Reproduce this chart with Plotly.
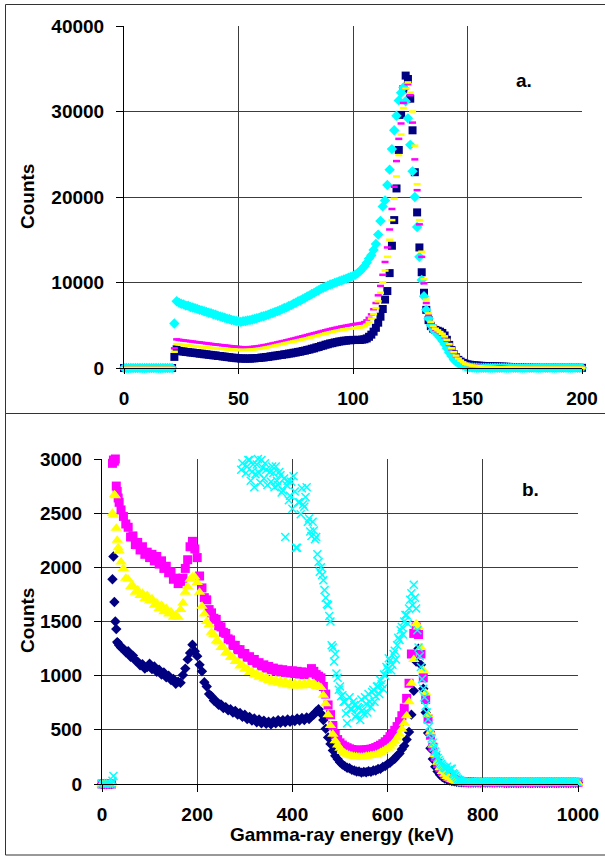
import plotly.graph_objects as go

# ---------------- panel a: low-energy region, 1 keV channels ----------------
energy_a = list(range(203))

navy_a = [
    0, 0, 0, 0, 0, 0, 0, 0, 0, 0,
    0, 0, 0, 0, 0, 0, 0, 0, 0, 0,
    0, 0, 1300, 2200, 2010, 1950, 1930, 1880, 1860, 1810,
    1800, 1750, 1730, 1680, 1670, 1610, 1600, 1550, 1530, 1480,
    1470, 1410, 1400, 1350, 1330, 1280, 1260, 1210, 1200, 1150,
    1140, 1110, 1120, 1090, 1110, 1100, 1130, 1130, 1170, 1170,
    1220, 1230, 1280, 1300, 1360, 1380, 1440, 1460, 1520, 1540,
    1600, 1620, 1690, 1710, 1780, 1810, 1880, 1910, 1990, 2030,
    2110, 2160, 2250, 2300, 2400, 2460, 2560, 2620, 2720, 2780,
    2870, 2910, 2990, 3030, 3100, 3130, 3190, 3200, 3250, 3250,
    3290, 3270, 3300, 3280, 3320, 3360, 3460, 3650, 3900, 4250,
    4700, 5300, 6000, 6900, 8000, 9000, 11100, 14300, 17300, 21000,
    25500, 29600, 32600, 34200, 33800, 31500, 27800, 22900, 18200, 14100,
    11200, 8800, 6800, 5600, 4900, 4600, 4450, 4350, 4250, 4100,
    3800, 3300, 2700, 2100, 1600, 1250, 950, 750, 600, 500,
    430, 380, 340, 310, 290, 270, 250, 240, 230, 220,
    210, 200, 190, 180, 170, 160, 150, 140, 130, 120,
    110, 100, 90, 80, 70, 60, 50, 40, 40, 30,
    30, 20, 20, 20, 20, 20, 20, 20, 20, 20,
    20, 20, 20, 20, 20, 20, 20, 20, 20, 20,
    20, 20, 20,
]

cyan_a = [
    0, 0, 0, 0, 0, 0, 0, 0, 0, 0,
    0, 0, 0, 0, 0, 0, 0, 0, 0, 0,
    0, 0, 5200, 7800, 7650, 7520, 7440, 7300, 7280, 7140,
    7070, 7000, 6910, 6800, 6740, 6640, 6570, 6460, 6420, 6290,
    6220, 6110, 6040, 5950, 5870, 5770, 5730, 5610, 5570, 5490,
    5450, 5400, 5460, 5490, 5570, 5600, 5670, 5740, 5810, 5890,
    6010, 6050, 6160, 6240, 6360, 6440, 6550, 6650, 6760, 6890,
    7010, 7090, 7250, 7350, 7510, 7630, 7810, 7890, 8060, 8190,
    8360, 8490, 8660, 8790, 8960, 9090, 9260, 9380, 9510, 9640,
    9760, 9840, 9960, 10040, 10160, 10240, 10350, 10440, 10560, 10640,
    10750, 10900, 11100, 11300, 11600, 11900, 12300, 12800, 13200, 13800,
    14500, 15600, 17200, 18900, 19600, 21400, 23200, 25600, 27800, 29500,
    31300, 32200, 32800, 31200, 29200, 26100, 23000, 20000, 16500, 13000,
    10300, 8400, 6800, 5800, 5000, 4500, 4200, 3900, 3600, 3200,
    2800, 2300, 1800, 1400, 1000, 750, 550, 400, 280, 200,
    130, 90, 60, 40, 30, 20, 20, 20, 20, 20,
    20, 20, 20, 20, 20, 20, 20, 20, 20, 20,
    20, 20, 20, 20, 20, 20, 20, 20, 20, 20,
    20, 20, 20, 20, 20, 20, 20, 20, 20, 20,
    20, 20, 20, 20, 20, 20, 20, 20, 20, 20,
    20, 20, 20,
]

magenta_a = [
    0, 0, 0, 0, 0, 0, 0, 0, 0, 0,
    0, 0, 0, 0, 0, 0, 0, 0, 0, 0,
    0, 0, 2300, 3350, 3300, 3260, 3220, 3190, 3160, 3120,
    3090, 3050, 3020, 2990, 2950, 2920, 2880, 2850, 2820, 2780,
    2750, 2720, 2690, 2660, 2630, 2600, 2570, 2540, 2510, 2490,
    2460, 2440, 2430, 2420, 2430, 2440, 2460, 2490, 2520, 2560,
    2600, 2650, 2700, 2750, 2810, 2870, 2930, 2990, 3050, 3110,
    3170, 3240, 3300, 3370, 3430, 3500, 3570, 3640, 3710, 3780,
    3850, 3920, 3990, 4060, 4130, 4200, 4270, 4340, 4410, 4480,
    4550, 4610, 4670, 4730, 4790, 4850, 4900, 4950, 5000, 5050,
    5100, 5140, 5180, 5220, 5270, 5370, 5570, 5870, 6270, 6870,
    7600, 8500, 9600, 10900, 12400, 14100, 16200, 18600, 21200, 24200,
    26800, 28600, 31000, 32700, 33200, 31900, 28700, 24400, 20800, 16800,
    13000, 9900, 7600, 6200, 5300, 4800, 4500, 4300, 4100, 3900,
    3600, 3200, 2700, 2200, 1800, 1400, 1100, 850, 650, 500,
    400, 340, 300, 270, 250, 230, 210, 200, 190, 180,
    170, 160, 150, 140, 130, 120, 110, 100, 90, 80,
    70, 60, 50, 40, 40, 30, 30, 30, 20, 20,
    20, 20, 20, 20, 20, 20, 20, 20, 20, 20,
    20, 20, 20, 20, 20, 20, 20, 20, 20, 20,
    20, 20, 20,
]

yellow_a = [
    0, 0, 0, 0, 0, 0, 0, 0, 0, 0,
    0, 0, 0, 0, 0, 0, 0, 0, 0, 0,
    0, 0, 1900, 2800, 2760, 2720, 2690, 2660, 2630, 2600,
    2570, 2540, 2510, 2480, 2450, 2420, 2400, 2370, 2340, 2320,
    2300, 2270, 2250, 2230, 2210, 2190, 2170, 2150, 2140, 2120,
    2110, 2100, 2100, 2110, 2120, 2140, 2160, 2190, 2220, 2260,
    2300, 2350, 2400, 2450, 2510, 2570, 2630, 2690, 2750, 2810,
    2870, 2930, 2990, 3050, 3110, 3170, 3230, 3290, 3350, 3410,
    3480, 3550, 3620, 3690, 3760, 3830, 3900, 3970, 4040, 4110,
    4180, 4240, 4300, 4350, 4400, 4450, 4500, 4540, 4580, 4620,
    4650, 4680, 4710, 4740, 4780, 4880, 5080, 5380, 5780, 6300,
    7000, 7800, 8800, 10000, 11400, 13000, 15000, 17300, 19800, 22400,
    24900, 27300, 30400, 32700, 33400, 32200, 30000, 26000, 21500, 17300,
    13600, 10400, 8000, 6400, 5400, 4900, 4600, 4400, 4200, 4000,
    3700, 3300, 2800, 2300, 1850, 1450, 1100, 850, 650, 500,
    400, 330, 280, 250, 220, 200, 180, 160, 150, 140,
    130, 120, 110, 100, 90, 80, 70, 60, 50, 40,
    40, 30, 30, 30, 20, 20, 20, 20, 20, 20,
    20, 20, 20, 20, 20, 20, 20, 20, 20, 20,
    20, 20, 20, 20, 20, 20, 20, 20, 20, 20,
    20, 20, 20,
]

# ---------------- panel b: full spectrum ----------------
# finer spacing at the low-energy edge, then 5 keV channels up to 1010 keV
energy_b = [0, 5, 10, 15, 20, 22, 24, 26, 28, 30, 32, 34, 36, 40] + list(range(45, 1015, 5))

navy_b = [
    0, 0, 0, 0, 0, 1890, 2100, 1680, 1500, 1430, 1310, 1300, 1280, 1260,
    1250, 1215, 1225, 1175, 1185, 1140, 1130, 1095, 1105, 1065,   # 45-90
    1080, 1110, 1060, 1085, 1035, 1055, 1010, 1030, 985, 1000,    # 95-140
    960, 970, 925, 945, 935, 1005, 1065, 1150, 1210, 1285,        # 145-190
    1225, 1180, 1100, 1040, 940, 900, 830, 810, 770, 765,         # 195-240
    730, 735, 700, 710, 680, 690, 660, 675, 640, 655,             # 245-290
    620, 640, 600, 620, 585, 605, 570, 595, 560, 585,             # 295-340
    555, 575, 550, 580, 560, 590, 565, 590, 570, 595,             # 345-390
    575, 595, 580, 605, 585, 610, 590, 615, 600, 625,             # 395-440
    640, 670, 690, 650, 590, 510, 430, 370, 310, 260,             # 445-490
    230, 200, 180, 165, 150, 145, 130, 125, 115, 115,             # 495-540
    105, 112, 108, 118, 112, 125, 124, 138, 140, 158,             # 545-590
    165, 185, 195, 218, 232, 262, 282, 320, 352, 410,             # 595-640
    480, 640, 860, 1130, 1250, 1100, 880, 660, 470, 330,          # 645-690
    230, 160, 115, 85, 65, 50, 40, 33, 28, 24,                    # 695-740
    20, 18, 16, 15, 15, 14, 14, 14, 13, 13,                       # 745-790
    13, 13, 13, 13, 13, 13, 13, 13, 13, 13,                       # 795-840
    12, 12, 12, 12, 12, 12, 12, 12, 12, 12,                       # 845-890
    12, 12, 12, 12, 12, 12, 12, 12, 12, 12,                       # 895-940
    12, 12, 12, 12, 12, 12, 12, 12, 12, 12,                       # 945-990
    12, 12, 12, 12,                                               # 995-1010
]

magenta_b = [
    0, 0, 0, 0, 0, 2960, 2990, 2980, 3000, 2750, 2700, 2640, 2600, 2530,
    2470, 2400, 2370, 2280, 2290, 2210, 2230, 2160, 2190, 2120,   # 45-90
    2140, 2090, 2120, 2060, 2100, 2030, 2060, 1990, 2010, 1950,   # 95-140
    1960, 1890, 1900, 1850, 1870, 1900, 1990, 2070, 2190, 2240,   # 145-190
    2170, 2090, 1920, 1810, 1720, 1700, 1610, 1580, 1530, 1520,   # 195-240
    1460, 1450, 1400, 1390, 1340, 1330, 1280, 1280, 1240, 1240,   # 245-290
    1200, 1205, 1170, 1175, 1140, 1150, 1115, 1120, 1090, 1100,   # 295-340
    1070, 1085, 1055, 1070, 1045, 1060, 1035, 1055, 1030, 1045,   # 345-390
    1025, 1045, 1020, 1040, 1015, 1035, 1010, 1030, 1025, 1065,   # 395-440
    1040, 1010, 995, 980, 900, 830, 730, 640, 540, 460,           # 445-490
    410, 380, 360, 345, 335, 325, 318, 314, 312, 310,             # 495-540
    312, 314, 316, 318, 322, 328, 336, 346, 358, 372,             # 545-590
    390, 412, 437, 465, 495, 530, 575, 630, 700, 790,             # 595-640
    930, 1200, 1390, 1450, 1380, 1200, 980, 780, 600, 450,        # 645-690
    340, 250, 190, 150, 115, 90, 70, 58, 48, 40,                  # 695-740
    34, 28, 24, 20, 18, 17, 16, 16, 15, 15,                       # 745-790
    15, 15, 15, 15, 15, 15, 15, 15, 15, 15,                       # 795-840
    15, 15, 15, 15, 15, 15, 15, 15, 15, 15,                       # 845-890
    15, 15, 15, 15, 15, 15, 15, 15, 15, 15,                       # 895-940
    15, 15, 15, 15, 15, 15, 15, 15, 15, 15,                       # 945-990
    15, 15, 15, 15,                                               # 995-1010
]

yellow_b = [
    0, 0, 0, 0, 0, 2500, 2480, 2670, 2660, 2360, 2250, 2180, 2150, 2050,
    1990, 1900, 1890, 1820, 1830, 1770, 1790, 1740, 1760, 1710,   # 45-90
    1740, 1690, 1710, 1650, 1670, 1620, 1650, 1590, 1620, 1570,   # 95-140
    1590, 1540, 1560, 1540, 1610, 1670, 1770, 1820, 1890, 1910,   # 145-190
    1910, 1860, 1770, 1640, 1570, 1500, 1470, 1400, 1380, 1320,   # 195-240
    1310, 1260, 1260, 1210, 1210, 1170, 1170, 1130, 1130, 1090,   # 245-290
    1095, 1060, 1065, 1030, 1040, 1005, 1020, 985, 1000, 970,     # 295-340
    985, 955, 970, 940, 960, 930, 950, 920, 945, 915,             # 345-390
    935, 905, 930, 905, 925, 905, 930, 910, 935, 915,             # 395-440
    930, 900, 905, 890, 820, 740, 640, 540, 460, 400,             # 445-490
    360, 330, 300, 285, 275, 265, 258, 254, 252, 250,             # 495-540
    250, 252, 255, 258, 262, 266, 272, 280, 290, 302,             # 545-590
    315, 330, 348, 370, 395, 425, 460, 505, 560, 630,             # 595-640
    760, 930, 1150, 1480, 1450, 1260, 1050, 840, 640, 480,        # 645-690
    360, 270, 200, 150, 115, 90, 70, 55, 42, 32,                  # 695-740
    25, 20, 16, 14, 13, 12, 12, 12, 12, 12,                       # 745-790
    12, 12, 12, 12, 12, 12, 12, 12, 12, 12,                       # 795-840
    12, 12, 12, 12, 12, 12, 12, 12, 12, 12,                       # 845-890
    12, 12, 12, 12, 12, 12, 12, 12, 12, 12,                       # 895-940
    12, 12, 12, 12, 12, 12, 12, 12, 12, 12,                       # 945-990
    12, 12, 12, 12,                                               # 995-1010
]

# cyan runs above the 3000-count axis between ~25 and ~290 keV; 2.5 keV channels
# through the region of interest, 5 keV beyond
energy_b_cyan = ([0, 5, 10, 15, 20, 22, 24]
                 + [290 + 2.5 * i for i in range(189)]
                 + list(range(765, 1015, 5)))

cyan_b = [
    0, 0, 0, 0, 0, 30, 74,
    3040, 2900, 2960, 3020, 3010, 2870, 2930, 2990, 2990, 2800,   # 290-312.5
    2880, 2950, 2740, 2860, 2950, 3000, 2870, 2780, 2990, 2920,   # 315-337.5
    2820, 2960, 2900, 2760, 3020, 2880, 2790, 2930, 2870, 2740,   # 340-362.5
    2930, 2800, 2760, 2880, 2850, 2690, 2710, 2820, 2280, 2760,   # 365-387.5
    2800, 2620, 2660, 2790, 2540, 2840, 2700, 2180, 2180, 2600,   # 390-412.5
    2600, 2490, 2730, 2580, 2560, 2650, 2740, 2420, 2450, 2330,   # 415-437.5
    2290, 2420, 2340, 2260, 2280, 2120, 2050, 1960, 2000, 1930,   # 440-462.5
    1880, 1790, 1720, 1660, 1650, 1550, 1500, 1280, 1260, 1130,   # 465-487.5
    1200, 1020, 980, 870, 900, 810, 820, 760, 760, 650,           # 490-512.5
    560, 720, 800, 690, 690, 760, 730, 620, 640, 710,             # 515-537.5
    700, 590, 780, 680, 650, 800, 740, 660, 830, 760,             # 540-562.5
    710, 850, 870, 760, 810, 900, 900, 830, 960, 920,             # 565-587.5
    880, 1010, 1000, 1080, 1060, 1160, 1140, 1050, 1100, 1200,    # 590-612.5
    1230, 1150, 1280, 1350, 1330, 1420, 1450, 1380, 1500, 1560,   # 615-637.5
    1560, 1480, 1620, 1700, 1760, 1650, 1840, 1720, 1620, 1420,   # 640-662.5
    1260, 1180, 1080, 970, 880, 800, 720, 660, 600, 530,          # 665-687.5
    470, 420, 380, 340, 300, 270, 240, 220, 200, 185,             # 690-712.5
    170, 160, 150, 145, 160, 130, 120, 140, 140, 100,             # 715-737.5
    90, 75, 60, 45, 35, 30, 25, 22, 20,                           # 740-760
    18, 18, 18, 18, 18, 18, 18, 18, 18, 18,                       # 765-810
    18, 18, 18, 18, 18, 18, 18, 18, 18, 18,                       # 815-860
    18, 18, 18, 18, 18, 18, 18, 18, 18, 18,                       # 865-910
    18, 18, 18, 18, 18, 18, 18, 18, 18, 18,                       # 915-960
    18, 18, 18, 18, 18, 18, 18, 18, 18, 18,                       # 965-1010
]

# ---------------- figure ----------------
W, H = 605, 856
FONT = "Liberation Sans, Arial, sans-serif"
NAVY, MAGENTA, YELLOW, CYAN = "#000080", "#FF00FF", "#FFFF00", "#00FFFF"


def px_x(p):
    return p / W


def px_y(p):
    return 1 - p / H


fig = go.Figure()

# panel a traces
fig.add_trace(go.Scatter(x=energy_a, y=navy_a, mode="markers", xaxis="x", yaxis="y",
                         marker=dict(symbol="square", size=8, color=NAVY, line=dict(width=0)),
                         cliponaxis=False))
fig.add_trace(go.Scatter(x=energy_a, y=cyan_a, mode="markers", xaxis="x", yaxis="y",
                         marker=dict(symbol="diamond", size=8, color=CYAN, line=dict(width=0)),
                         cliponaxis=False))
fig.add_trace(go.Scatter(x=energy_a, y=magenta_a, mode="markers", xaxis="x", yaxis="y",
                         marker=dict(symbol="line-ew", size=5, color=MAGENTA,
                                     line=dict(width=2.5, color=MAGENTA)),
                         cliponaxis=False))
fig.add_trace(go.Scatter(x=energy_a, y=yellow_a, mode="markers", xaxis="x", yaxis="y",
                         marker=dict(symbol="line-ew", size=5, color=YELLOW,
                                     line=dict(width=2.5, color=YELLOW)),
                         cliponaxis=False))

# panel b traces
fig.add_trace(go.Scatter(x=energy_b, y=navy_b, mode="markers", xaxis="x2", yaxis="y2",
                         marker=dict(symbol="diamond", size=8, color=NAVY, line=dict(width=0)),
                         cliponaxis=False))
fig.add_trace(go.Scatter(x=energy_b, y=magenta_b, mode="markers", xaxis="x2", yaxis="y2",
                         marker=dict(symbol="square", size=9, color=MAGENTA, line=dict(width=0)),
                         cliponaxis=False))
fig.add_trace(go.Scatter(x=energy_b, y=yellow_b, mode="markers", xaxis="x2", yaxis="y2",
                         marker=dict(symbol="triangle-up", size=10, color=YELLOW, line=dict(width=0)),
                         cliponaxis=False))
fig.add_trace(go.Scatter(x=energy_b_cyan, y=cyan_b, mode="markers", xaxis="x2", yaxis="y2",
                         marker=dict(symbol="x-thin", size=8, color=CYAN,
                                     line=dict(width=1.5, color=CYAN)),
                         cliponaxis=False))

tickfont = dict(family=FONT, size=19, color="black", weight="bold")
grid = dict(showgrid=True, gridcolor="#3c3c3c", gridwidth=1, zeroline=False,
            showline=True, linecolor="black", linewidth=1, ticks="outside",
            tickcolor="black", tickfont=tickfont, tickformat="d", fixedrange=True,
            automargin=False)

fig.update_layout(
    width=W, height=H, margin=dict(l=0, r=0, t=0, b=0, pad=0, autoexpand=False),
    paper_bgcolor="white", plot_bgcolor="white", showlegend=False,
    xaxis=dict(domain=[px_x(124), px_x(582)], range=[0, 200], tick0=0, dtick=50,
               anchor="y", ticklen=5, ticklabelstandoff=8, **grid),
    yaxis=dict(domain=[px_y(368), px_y(26)], range=[0, 40000], tick0=0, dtick=10000,
               anchor="x", ticklen=7, ticklabelstandoff=8, **grid),
    xaxis2=dict(domain=[px_x(102), px_x(578)], range=[0, 1000], tick0=0, dtick=200,
                anchor="y2", ticklen=7, ticklabelstandoff=6, **grid),
    yaxis2=dict(domain=[px_y(784), px_y(459)], range=[0, 3000], tick0=0, dtick=500,
                anchor="x2", ticklen=7, ticklabelstandoff=8, **grid),
)

label_font = dict(family=FONT, size=19, color="black", weight="bold")
annotations = [
    dict(text="a.", x=px_x(524), y=px_y(80)),
    dict(text="b.", x=px_x(530), y=px_y(489)),
    dict(text="Counts", x=px_x(27), y=px_y(197), textangle=-90),
    dict(text="Counts", x=px_x(27), y=px_y(621), textangle=-90),
    dict(text="Gamma-ray energy (keV)", x=px_x(342), y=px_y(834)),
]
for a in annotations:
    fig.add_annotation(xref="paper", yref="paper", showarrow=False,
                       xanchor="center", yanchor="middle", font=label_font, **a)

# panel frames
frame = dict(type="rect", xref="paper", yref="paper", line=dict(color="#333333", width=1),
             fillcolor="rgba(0,0,0,0)", layer="below")
fig.add_shape(x0=px_x(5.5), x1=1.02, y0=px_y(413.5), y1=px_y(4.5), **frame)
fig.add_shape(x0=px_x(5.5), x1=1.02, y0=px_y(855), y1=px_y(413.5), **frame)

fig.write_html("out.html")
